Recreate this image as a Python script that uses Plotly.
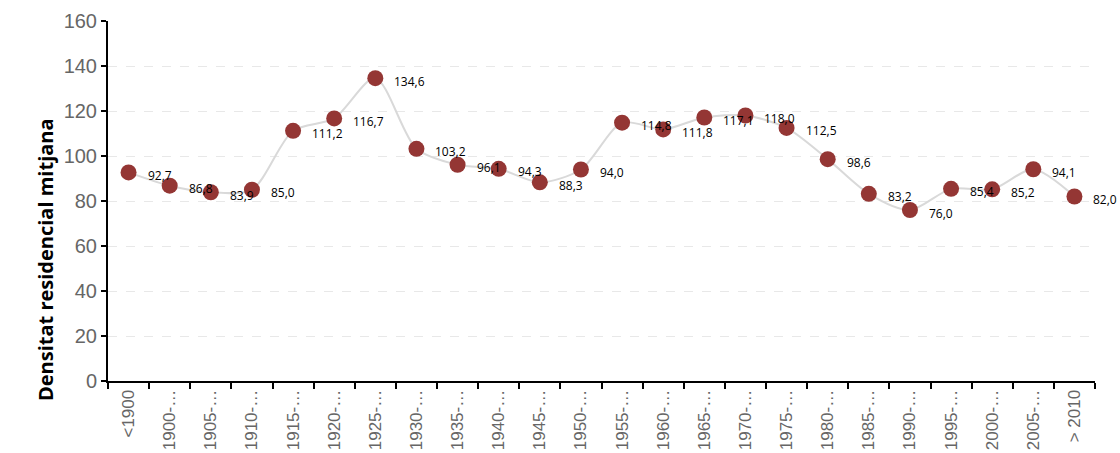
import plotly.graph_objects as go

categories = ["<1900", "1900-…", "1905-…", "1910-…", "1915-…", "1920-…", "1925-…",
              "1930-…", "1935-…", "1940-…", "1945-…", "1950-…", "1955-…", "1960-…",
              "1965-…", "1970-…", "1975-…", "1980-…", "1985-…", "1990-…", "1995-…",
              "2000-…", "2005-…", "> 2010"]
values = [92.7, 86.8, 83.9, 85.0, 111.2, 116.7, 134.6, 103.2, 96.1, 94.3, 88.3, 94.0,
          114.8, 111.8, 117.1, 118.0, 112.5, 98.6, 83.2, 76.0, 85.4, 85.2, 94.1, 82.0]
y_ticks = [0, 20, 40, 60, 80, 100, 120, 140, 160]
y_title = "Densitat residencial mitjana"

labels = [f"{v:.1f}".replace(".", ",") for v in values]

fig = go.Figure()
fig.add_trace(go.Scatter(
    x=categories, y=values, mode="lines+markers",
    line=dict(color="#d9d9d9", width=2, shape="spline", smoothing=0.8),
    marker=dict(color="#943634", size=16),
    cliponaxis=False, hoverinfo="skip",
))
for cat, val, lab in zip(categories, values, labels):
    fig.add_annotation(
        x=cat, y=val, text=lab, showarrow=False,
        xanchor="left", yanchor="middle", xshift=17, yshift=-3,
        font=dict(family="Open Sans", size=12, color="#000000"),
    )

fig.update_layout(
    width=1120, height=453,
    margin=dict(l=108, r=25, t=21, b=72),
    paper_bgcolor="white", plot_bgcolor="white",
    showlegend=False,
)
fig.update_xaxes(
    type="category", tickson="boundaries", ticks="outside", ticklen=6,
    tickcolor="#000", tickwidth=2, showline=True, linecolor="#000", linewidth=2,
    tickangle=-90, tickfont=dict(family="Liberation Sans", size=17, color="#666666"),
    showgrid=False, range=[-0.5, len(categories) - 0.5], automargin=False,
)
fig.update_yaxes(
    range=[0, 160], tickvals=y_ticks, ticks="outside", ticklen=5,
    tickcolor="#000", tickwidth=2, showline=True, linecolor="#000", linewidth=2,
    tickfont=dict(family="Liberation Sans", size=20, color="#666666"),
    showgrid=True, gridcolor="#e8e8e8", griddash="dash", gridwidth=1,
    zeroline=False, automargin=False,
)
fig.add_annotation(
    text=f"<b>{y_title}</b>", xref="paper", yref="paper",
    x=-0.0638, y=0.336, xanchor="center", yanchor="middle",
    textangle=-90, showarrow=False,
    font=dict(family="Open Sans", size=20, color="#000"),
)

fig.write_html(
    "out.html",
    config={"displayModeBar": False},
    post_script="document.body.style.margin='0';document.body.style.overflow='hidden';",
)
